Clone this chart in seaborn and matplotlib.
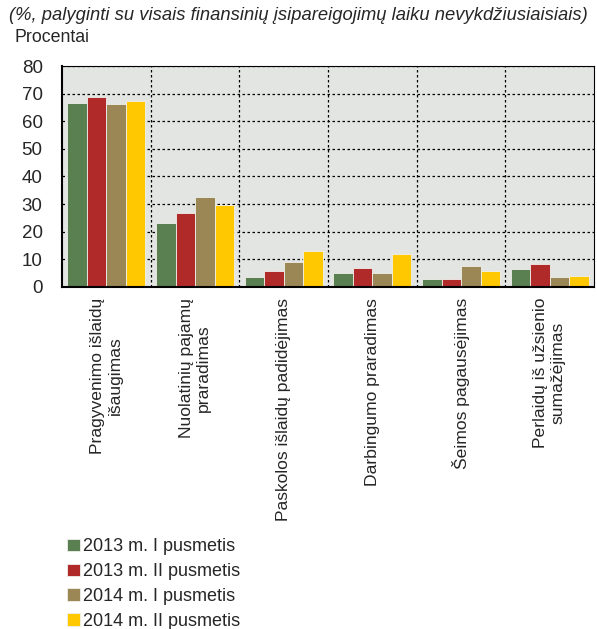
import pandas as pd
import matplotlib.pyplot as plt
import seaborn as sns

categories = [
    "Pragyvenimo išlaidų\nišaugimas",
    "Nuolatinių pajamų\npraradimas",
    "Paskolos išlaidų padidėjimas",
    "Darbingumo praradimas",
    "Šeimos pagausėjimas",
    "Perlaidų iš užsienio\nsumažėjimas",
]
periods = ["2013 m. I pusmetis", "2013 m. II pusmetis",
           "2014 m. I pusmetis", "2014 m. II pusmetis"]
v_2013_1 = [66.5, 23.0, 3.7, 5.1, 2.7, 6.4]
v_2013_2 = [68.8, 26.7, 5.6, 6.9, 2.9, 8.3]
v_2014_1 = [66.1, 32.4, 9.1, 5.1, 7.7, 3.7]
v_2014_2 = [67.4, 29.8, 12.8, 12.0, 5.9, 4.1]
colors = ["#5a7f50", "#b02a2a", "#9b8756", "#ffc800"]

rows = []
for p, vals in zip(periods, [v_2013_1, v_2013_2, v_2014_1, v_2014_2]):
    for c, v in zip(categories, vals):
        rows.append({"cat": c, "period": p, "value": v})
df = pd.DataFrame(rows)

sns.set_style("white")
plt.rcParams["font.family"] = ["Liberation Sans", "DejaVu Sans"]

fig = plt.figure(figsize=(5.97, 6.29), dpi=100)
ax = fig.add_axes([0.104, 0.544, 0.891, 0.351])
ax.set_facecolor("#e3e5e2")

sns.barplot(data=df, x="cat", y="value", hue="period", palette=colors,
            saturation=1, width=0.88, edgecolor="#f0f0ea", linewidth=0.6, ax=ax)

ax.set_xlim(-0.5, len(categories) - 0.5)
ax.set_ylim(0, 80)
ax.set_yticks(range(0, 81, 10))
ax.set_xticks([i + 0.5 for i in range(len(categories) - 1)], minor=True)
ax.grid(True, axis="y", which="major", color="black", linestyle=(0, (2, 2)), linewidth=0.9)
ax.grid(True, axis="x", which="minor", color="black", linestyle=(0, (2, 2)), linewidth=0.9)
ax.grid(False, axis="x", which="major")
ax.set_axisbelow(True)
ax.tick_params(axis="both", which="both", length=0)
ax.tick_params(axis="y", labelsize=13.5, pad=14)
ax.set_xticks(range(len(categories)))
ax.set_xticklabels(categories, rotation=90, ha="center", va="top",
                   multialignment="center", fontsize=12.6)
ax.tick_params(axis="x", pad=8)
ax.set_xlabel("")
ax.set_ylabel("")
for s in ax.spines.values():
    s.set_visible(True)
    s.set_color("black")
    s.set_linewidth(0.8)
ax.spines["bottom"].set_linewidth(1.5)
ax.spines["left"].set_linewidth(1.5)

handles, labels = ax.get_legend_handles_labels()
ax.legend_.remove()
fig.legend(handles, labels, loc="lower left", bbox_to_anchor=(0.085, -0.027),
           frameon=False, fontsize=13, handlelength=0.7, handleheight=0.7,
           handletextpad=0.2, labelspacing=0.43)

fig.text(0.015, 0.976, "(%, palyginti su visais finansinių įsipareigojimų laiku nevykdžiusiaisiais)",
         fontsize=13.2, style="italic", va="center", ha="left")
fig.text(0.025, 0.94, "Procentai", fontsize=12.8, va="center", ha="left")

fig.savefig("out.png", dpi=100)
